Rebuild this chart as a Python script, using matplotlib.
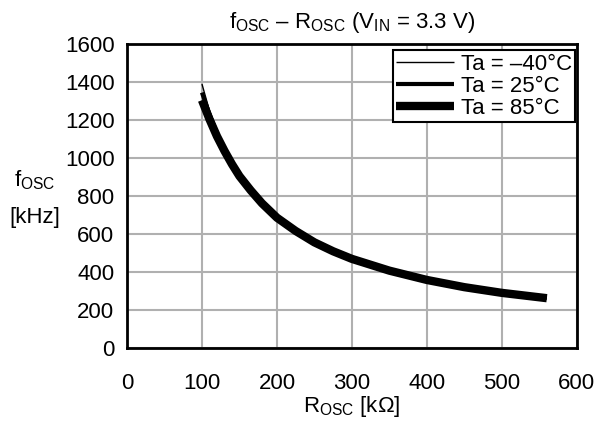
import matplotlib
matplotlib.use("Agg")
import matplotlib.pyplot as plt

plt.rcParams['font.family'] = ['Liberation Sans', 'DejaVu Sans']
plt.rcParams['mathtext.fontset'] = 'custom'
plt.rcParams['mathtext.rm'] = 'Liberation Sans'
plt.rcParams['mathtext.it'] = 'Liberation Sans'

# R_OSC [kOhm] and f_OSC [kHz]
r_osc = [100, 110, 120, 130, 140, 150, 165, 180, 200, 225, 250, 275, 300,
         350, 400, 450, 500, 560]
f_m40 = [1390, 1250, 1150, 1060, 985, 920, 840, 770, 692, 620, 560, 512, 472,
         410, 360, 322, 292, 263]
f_25 = [1345, 1230, 1130, 1050, 975, 912, 834, 766, 690, 618, 558, 510, 470,
        408, 359, 321, 291, 263]
f_85 = [1305, 1205, 1115, 1038, 968, 905, 830, 762, 686, 616, 556, 509, 469,
        407, 358, 320, 290, 262]
labels = ["Ta = \u201340\u00b0C", "Ta = 25\u00b0C", "Ta = 85\u00b0C"]
widths = [1.0, 3.0, 6.0]

fs = 16
fig = plt.figure(figsize=(6.03, 4.29), dpi=100)
ax = fig.add_axes([0.2106, 0.189, 0.746, 0.708])

for y, lab, lw in zip([f_m40, f_25, f_85], labels, widths):
    ax.plot(r_osc, y, color='black', lw=lw, label=lab, solid_capstyle='butt')

ax.set_xlim(0, 600)
ax.set_ylim(0, 1600)
ax.set_xticks(range(0, 601, 100))
ax.set_yticks(range(0, 1601, 200))
ax.grid(True, color='#b0b0b0', lw=1.5)
ax.set_axisbelow(True)
ax.tick_params(length=0, labelsize=fs)
ax.tick_params(axis='x', pad=18)
ax.tick_params(axis='y', pad=9)
for s in ax.spines.values():
    s.set_linewidth(2)

ax.set_title("$\\mathrm{f_{OSC}}$ \u2013 $\\mathrm{R_{OSC}}$ ($\\mathrm{V_{IN}}$ = 3.3 V)",
             fontsize=fs, pad=12)
fig.text(0.058, 0.58, "$\\mathrm{f_{OSC}}$", fontsize=fs, ha='center', va='center')
fig.text(0.058, 0.494, "[kHz]", fontsize=fs, ha='center', va='center')
ax.set_xlabel("$\\mathrm{R_{OSC}}$ [k\u03a9]", fontsize=fs, labelpad=0)

leg = ax.legend(loc='upper right', bbox_to_anchor=(0.996, 0.98),
                fontsize=fs, frameon=True, fancybox=False,
                edgecolor='black', framealpha=1, handlelength=2.6,
                borderpad=0.15, labelspacing=0.05, handletextpad=0.3,
                borderaxespad=0)
leg.get_frame().set_linewidth(1.5)

fig.savefig("out.png", dpi=100)
